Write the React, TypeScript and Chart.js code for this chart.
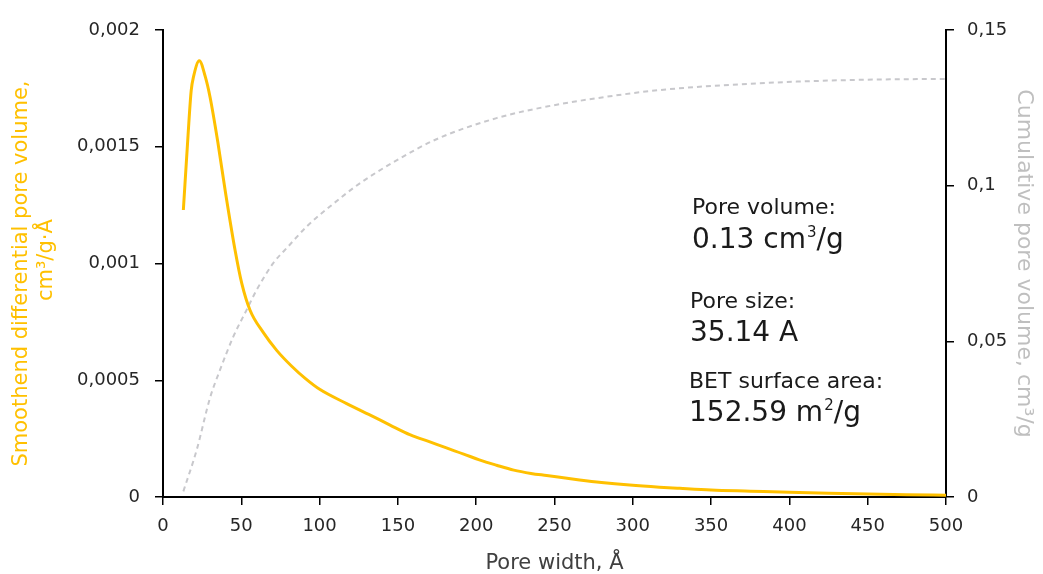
import React, { useEffect, useRef } from 'react';
import { Chart, registerables } from 'chart.js';

Chart.register(...registerables);

// Smoothed differential pore volume (left axis)
const diffWidth = [13, 16, 18, 19.5, 23.2, 27, 30, 35, 40, 46, 50.3, 55.6, 64, 72.6, 82.2, 91, 100.3, 117.3, 134.3, 145, 158, 170, 181, 192, 202, 213, 224, 235, 245, 266, 280, 298, 317, 330, 350, 375, 400, 425, 450, 475, 500];
const diffVolume = [0.001229, 0.00155, 0.00174, 0.0018, 0.001868, 0.0018, 0.001714, 0.00152, 0.0013, 0.001058, 0.000915, 0.0008, 0.000705, 0.000628, 0.00056, 0.000507, 0.00046, 0.0004, 0.000344, 0.000308, 0.000266, 0.000237, 0.00021, 0.000184, 0.000159, 0.000136, 0.000115, 0.000101, 0.000092, 0.000073, 0.000062, 0.000051, 0.000042, 0.000037, 0.00003, 0.000025, 0.00002, 0.000016, 0.000013, 0.00001, 0.000008];

// Cumulative pore volume (right axis)
const cumWidth = [13, 21.5, 30, 36.4, 44.9, 53.4, 59.8, 70.4, 80, 92, 106.6, 125, 147, 175, 213, 245, 277, 317, 381, 445, 500];
const cumVolume = [0.0018, 0.0151, 0.0318, 0.0408, 0.0515, 0.0601, 0.0665, 0.0751, 0.0805, 0.087, 0.0933, 0.1005, 0.1075, 0.115, 0.1217, 0.1254, 0.1281, 0.1307, 0.1329, 0.134, 0.1343];

const xTicks = [0, 50, 100, 150, 200, 250, 300, 350, 400, 450, 500];
const leftTicks = [0, 0.0005, 0.001, 0.0015, 0.002];
const rightTicks = [0, 0.05, 0.1, 0.15];

const xTitle = 'Pore width, Å';
const leftTitle = ['Smoothend differential pore volume,   ', ' cm³/g·Å'];
const rightTitle = 'Cumulative pore volume, cm³/g';

// Annotation text: label, value, superscript, suffix
const noteLabels = ['Pore volume:', 'Pore size:', 'BET surface area:'];
const noteValues = ['0.13 cm', '35.14 A', '152.59 m'];
const noteSups = ['3', '', '2'];
const noteSuffix = ['/g', '', '/g'];

const FONT = '"DejaVu Sans", Verdana, sans-serif';
const fmt = (v: number) => String(+v.toFixed(6)).replace('.', ',');

const notesPlugin = {
  id: 'notes',
  afterDraw(chart: any) {
    const ctx = chart.ctx as CanvasRenderingContext2D;
    const layout = [
      { x: 692, yl: 214, yv: 248 },
      { x: 690, yl: 308, yv: 341 },
      { x: 689, yl: 388, yv: 421 },
    ];
    ctx.save();
    ctx.fillStyle = '#1a1a1a';
    ctx.textBaseline = 'alphabetic';
    ctx.textAlign = 'left';
    noteLabels.forEach((lab, i) => {
      const p = layout[i];
      ctx.font = `22px ${FONT}`;
      ctx.fillText(lab, p.x, p.yl);
      ctx.font = `28px ${FONT}`;
      ctx.fillText(noteValues[i], p.x, p.yv);
      let x = p.x + ctx.measureText(noteValues[i]).width;
      if (noteSups[i]) {
        ctx.font = `15px ${FONT}`;
        ctx.fillText(noteSups[i], x + 1, p.yv - 11);
        x += ctx.measureText(noteSups[i]).width + 1;
      }
      if (noteSuffix[i]) {
        ctx.font = `28px ${FONT}`;
        ctx.fillText(noteSuffix[i], x, p.yv);
      }
    });
    ctx.restore();
  },
};

export default function App() {
  const ref = useRef<HTMLCanvasElement | null>(null);
  useEffect(() => {
    if (!ref.current) return;
    const tickFont = { family: FONT, size: 18 };
    const chart = new Chart(ref.current, {
      type: 'line',
      data: {
        datasets: [
          {
            label: 'Smoothed differential pore volume',
            data: diffWidth.map((x, i) => ({ x, y: diffVolume[i] })),
            borderColor: '#FFC000',
            borderWidth: 3,
            pointRadius: 0,
            cubicInterpolationMode: 'monotone',
            yAxisID: 'y',
          },
          {
            label: 'Cumulative pore volume',
            data: cumWidth.map((x, i) => ({ x, y: cumVolume[i] })),
            borderColor: '#C8C8CC',
            borderWidth: 2,
            borderDash: [5, 4],
            pointRadius: 0,
            cubicInterpolationMode: 'monotone',
            yAxisID: 'y1',
          },
        ],
      },
      options: {
        animation: false,
        responsive: false,
        layout: { padding: { top: 30, left: 0, right: 0, bottom: 0 } },
        plugins: { legend: { display: false }, tooltip: { enabled: false } },
        scales: {
          x: {
            type: 'linear',
            min: 0,
            max: 500,
            afterBuildTicks: (s: any) => { s.ticks = xTicks.map((v) => ({ value: v })); },
            afterFit: (s: any) => { s.height = 77; },
            grid: { drawOnChartArea: false, drawTicks: true, tickLength: 8, color: '#000', lineWidth: 1.5 },
            border: { display: true, color: '#000', width: 2 },
            ticks: { font: tickFont, color: '#262626', padding: 11, maxRotation: 0, callback: (v: any) => String(v) },
            title: { display: true, text: xTitle, color: '#404040', font: { family: FONT, size: 21, lineHeight: 1 }, padding: { top: 0, bottom: 0 } },
          },
          y: {
            type: 'linear',
            position: 'left',
            min: 0,
            max: 0.002,
            afterBuildTicks: (s: any) => { s.ticks = leftTicks.map((v) => ({ value: v })); },
            afterFit: (s: any) => { s.width = 163; },
            grid: { drawOnChartArea: false, drawTicks: true, tickLength: 8, color: '#000', lineWidth: 1.5 },
            border: { display: true, color: '#000', width: 2 },
            ticks: { font: tickFont, color: '#262626', padding: 15, callback: (v: any) => fmt(v) },
            title: { display: true, text: leftTitle, color: '#FFC000', font: { family: FONT, size: 21, lineHeight: 1.19 }, padding: { top: 9.5, bottom: 0 } },
          },
          y1: {
            type: 'linear',
            position: 'right',
            min: 0,
            max: 0.15,
            afterBuildTicks: (s: any) => { s.ticks = rightTicks.map((v) => ({ value: v })); },
            afterFit: (s: any) => { s.width = 97; },
            grid: { drawOnChartArea: false, drawTicks: true, tickLength: 8, color: '#000', lineWidth: 1.5 },
            border: { display: true, color: '#000', width: 2 },
            ticks: { font: tickFont, color: '#262626', padding: 13, callback: (v: any) => fmt(v) },
            title: { display: true, text: rightTitle, color: '#BFBFBF', font: { family: FONT, size: 22, lineHeight: 1.2 }, padding: { top: 5.8, bottom: 0 } },
          },
        },
      },
      plugins: [notesPlugin],
    } as any);
    return () => chart.destroy();
  }, []);
  return (
    <div style={{ position: 'absolute', left: 0, top: 0, width: 1043, height: 574, background: '#fff' }}>
      <canvas ref={ref} width={1043} height={574} style={{ width: 1043, height: 574, display: 'block' }} />
    </div>
  );
}
